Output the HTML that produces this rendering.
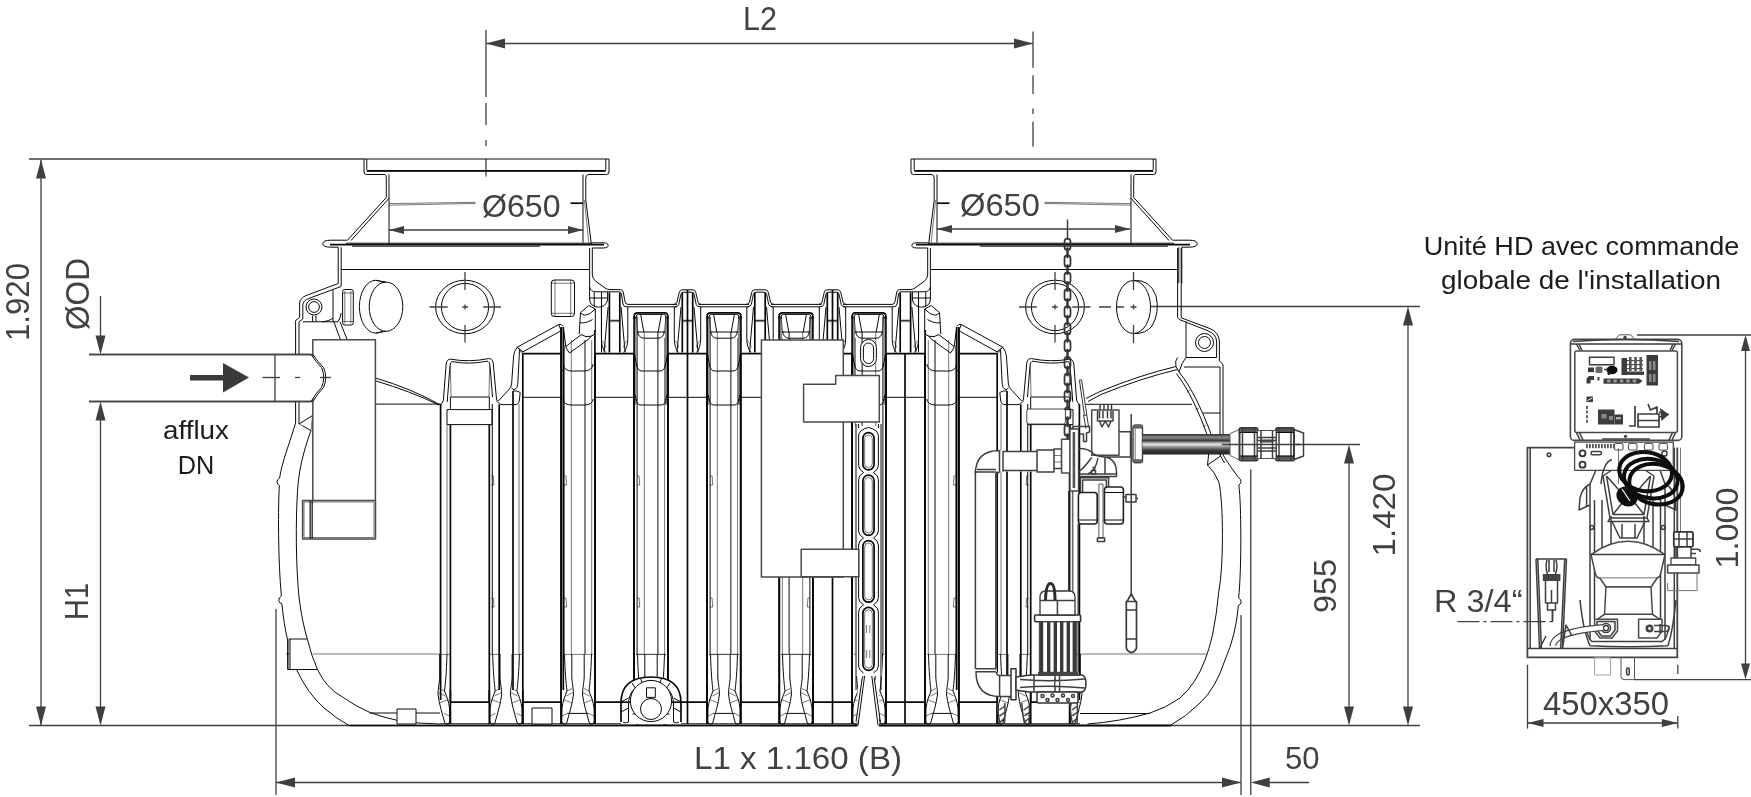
<!DOCTYPE html>
<html lang="fr"><head><meta charset="utf-8"><title>Dessin technique</title>
<style>
html,body{margin:0;padding:0;background:#fff;}
svg{display:block;will-change:transform}
path,rect,circle,ellipse,polyline{fill:none;stroke-linecap:butt;stroke-linejoin:round}
.d{stroke:#404040;stroke-width:1.3}
.t{stroke:#0a0a0a;stroke-width:1}
.k{stroke:#080808;stroke-width:1.7}
.h{stroke:#1c1c1c;stroke-width:.6}
.g{stroke:#3e3e3e;stroke-width:1.5}
.w{stroke:#4a4a4a;stroke-width:1.5;fill:#fff}
.wt{stroke:#0a0a0a;stroke-width:1;fill:#fff}
.a{fill:#3f3f3f;stroke:none}
.f{fill:#3a3a3a;stroke:none}
text{font-family:"Liberation Sans",Arial,sans-serif}
.dt{fill:#414141}
.bt{fill:#1c1c1c}
</style></head><body>
<svg width="1751" height="797" viewBox="0 0 1751 797">
<rect x="0" y="0" width="1751" height="797" style="fill:#fff;stroke:none"/>
<path class="d" d="M29 159L364 159"/>
<path class="d" d="M41 160L41 725"/>
<polygon class="a" points="41,159.5 36,178.5 46,178.5"/>
<polygon class="a" points="41,725.5 36,706.5 46,706.5"/>
<path class="d" d="M29 725.5L1420 725.5"/>
<path class="d" d="M100.5 296L100.5 340"/>
<polygon class="a" points="100.5,354.5 95.5,335.5 105.5,335.5"/>
<path class="d" d="M89 354.5L312.5 354.5"/>
<path class="d" d="M89 401.5L312.5 401.5"/>
<path class="d" d="M275 354.5L275 401.5"/>
<path class="d" d="M100.5 410L100.5 715"/>
<polygon class="a" points="100.5,401.5 95.5,420.5 105.5,420.5"/>
<polygon class="a" points="100.5,725.5 95.5,706.5 105.5,706.5"/>
<path class="f" d="M190 375H223V363L249 377.5L223 392.5V380.5H190Z"/>
<path class="d" d="M262.5 377.5L280 377.5"/>
<path class="d" d="M295 377.5L300 377.5"/>
<path class="d" d="M320 377.5L331 377.5"/>
<path class="d" d="M486 43.5L1033 43.5"/>
<polygon class="a" points="486,43.5 505,38.5 505,48.5"/>
<polygon class="a" points="1033,43.5 1014,38.5 1014,48.5"/>
<path class="d" d="M486 30L486 97"/>
<path class="d" d="M486 103L486 125"/>
<path class="d" d="M486 140L486 146"/>
<path class="d" d="M486 159L486 176.5"/>
<path class="d" d="M1033 31.4L1033 67.8"/>
<path class="d" d="M1033 75.3L1033 94"/>
<path class="d" d="M1033 108.4L1033 114"/>
<path class="d" d="M1033 121.7L1033 146.8"/>
<path class="d" d="M389 230L583 230"/>
<polygon class="a" points="389,230 404,226 404,234"/>
<polygon class="a" points="583,230 568,226 568,234"/>
<path class="d" d="M937 229L1130 229"/>
<polygon class="a" points="937,229 952,225 952,233"/>
<polygon class="a" points="1130,229 1115,225 1115,233"/>
<path class="d" d="M1150 306.5L1420 306.5"/>
<path class="d" d="M1408 315L1408 715"/>
<polygon class="a" points="1408,306.5 1403,325.5 1413,325.5"/>
<polygon class="a" points="1408,725.5 1403,706.5 1413,706.5"/>
<path class="d" d="M1222 444.5L1360 444.5"/>
<path class="d" d="M1349 455L1349 715"/>
<polygon class="a" points="1349,444.5 1344,463.5 1354,463.5"/>
<polygon class="a" points="1349,725.5 1344,706.5 1354,706.5"/>
<path class="d" d="M276 609L276 795"/>
<path class="d" d="M1241 615L1241 795"/>
<path class="d" d="M1250.75 469.5L1250.75 795"/>
<path class="d" d="M276 782.5L1241 782.5"/>
<polygon class="a" points="276,782.5 295,777.5 295,787.5"/>
<polygon class="a" points="1241,782.5 1222,777.5 1222,787.5"/>
<path class="d" d="M1260 782.5L1309 782.5"/>
<polygon class="a" points="1250.75,782.5 1269.75,777.5 1269.75,787.5"/>
<path class="d" d="M1637 335L1751 335"/>
<path class="d" d="M1634.5 679.6L1751 679.6"/>
<path class="d" d="M1745.5 345L1745.5 670"/>
<polygon class="a" points="1745.5,335 1741,351 1750,351"/>
<polygon class="a" points="1745.5,679.6 1741,663.6 1750,663.6"/>
<path class="d" d="M1527.5 664.8L1527.5 728.6"/>
<path class="d" d="M1677.8 664.8L1677.8 674"/>
<path class="d" d="M1677.8 716L1677.8 728.6"/>
<path class="d" d="M1527.5 723L1677.8 723"/>
<polygon class="a" points="1527.5,723 1543.5,719 1543.5,727"/>
<polygon class="a" points="1677.8,723 1661.8,719 1661.8,727"/>
<path class="d" d="M1457.5 621.6H1552.8" stroke-dasharray="22 4 3 4"/>
<path class="d" d="M1552.8 621.6L1552.8 609"/>
<text class="dt" x="760" y="30" font-size="33.5" text-anchor="middle" textLength="34" lengthAdjust="spacingAndGlyphs">L2</text>
<text class="dt" x="28.5" y="302" font-size="33" text-anchor="middle" textLength="78" lengthAdjust="spacingAndGlyphs" transform="rotate(-90 28.5 302)">1.920</text>
<text class="dt" x="88.5" y="294" font-size="33" text-anchor="middle" textLength="72" lengthAdjust="spacingAndGlyphs" transform="rotate(-90 88.5 294)">ØOD</text>
<text class="dt" x="87.5" y="601.5" font-size="33" text-anchor="middle" textLength="37" lengthAdjust="spacingAndGlyphs" transform="rotate(-90 87.5 601.5)">H1</text>
<text class="dt" x="482" y="217" font-size="32" text-anchor="start" textLength="78.5" lengthAdjust="spacingAndGlyphs">Ø650</text>
<text class="dt" x="960" y="216" font-size="32" text-anchor="start" textLength="80" lengthAdjust="spacingAndGlyphs">Ø650</text>
<text class="bt" x="196" y="438.5" font-size="26" text-anchor="middle" textLength="66" lengthAdjust="spacingAndGlyphs">afflux</text>
<text class="bt" x="196" y="473.5" font-size="26" text-anchor="middle" textLength="36.5" lengthAdjust="spacingAndGlyphs">DN</text>
<text class="dt" x="798" y="768.8" font-size="32" text-anchor="middle" textLength="208" lengthAdjust="spacingAndGlyphs">L1 x 1.160 (B)</text>
<text class="dt" x="1285" y="769" font-size="31.5" text-anchor="start" textLength="34.5" lengthAdjust="spacingAndGlyphs">50</text>
<text class="dt" x="1336" y="586" font-size="32" text-anchor="middle" textLength="54" lengthAdjust="spacingAndGlyphs" transform="rotate(-90 1336 586)">955</text>
<text class="dt" x="1395" y="515" font-size="32" text-anchor="middle" textLength="83" lengthAdjust="spacingAndGlyphs" transform="rotate(-90 1395 515)">1.420</text>
<text class="bt" x="1423.7" y="254.6" font-size="26" text-anchor="start" textLength="315.7" lengthAdjust="spacingAndGlyphs">Unité HD avec commande</text>
<text class="bt" x="1441" y="289" font-size="26" text-anchor="start" textLength="280" lengthAdjust="spacingAndGlyphs">globale de l'installation</text>
<text class="dt" x="1434" y="612.4" font-size="31" text-anchor="start" textLength="88.5" lengthAdjust="spacingAndGlyphs">R 3/4“</text>
<text class="dt" x="1737.5" y="528" font-size="32" text-anchor="middle" textLength="81" lengthAdjust="spacingAndGlyphs" transform="rotate(-90 1737.5 528)">1.000</text>
<text class="dt" x="1543" y="715" font-size="33" text-anchor="start" textLength="126" lengthAdjust="spacingAndGlyphs">450x350</text>
<g id="H">
<path class="t" d="M364 159H609V172Q609 174.5 606.5 174.5H588 M364 159V172Q364 174.5 366.5 174.5H385"/>
<path class="t" d="M366.8 159V169.5Q366.8 170.8 368 170.8H604.5Q605.8 170.8 605.8 169.5V159"/>
<path class="k" d="M367 170.8L605.6 170.8"/>
<path class="t" d="M389 174.5L389 243.5"/>
<path class="t" d="M583 174.5L583 242.5"/>
<path class="t" d="M385 174.5Q386.3 175 386.3 178V197.5L347.5 240.2H331Q322.8 240.2 322.8 243.7T331 247.2H338.2"/>
<path class="t" d="M388.8 198.5L351 240.5"/>
<path class="t" d="M588 174.5Q585.8 175 585.8 178V200L591.2 242.8H603Q608.2 242.8 608.2 245.4T603 248H592.3"/>
<path class="h" d="M584.4 200L588.8 242.8"/>
<path class="h" d="M389 203.6L475.5 202.3M389 205.2L475.5 203.4"/>
<path class="k" d="M570.5 203.2L583 203.2"/>
<path class="k" d="M330 244.6H604"/>
<path class="t" d="M346 243.2H592"/>
<path class="t" d="M352 246.2H540"/>
<path class="t" d="M338.2 247.2V283.5M341.2 247.2V283"/>
<path class="t" d="M589.6 248V289M592.3 248V275Q592.6 279 596 281.5L605 288Q607 289.6 610 289.6H620.3Q622.6 289.6 623.2 292L625 301.5Q625.5 304.4 628 304.4H677"/>
<path class="t" d="M589.6 287Q590.5 291.8 596 291.8H619Q621 291.8 621.4 294L623 304Q623.5 306.8 626 306.8H677"/>
<path class="t" d="M341.2 269.5L589.6 269.5"/>
<path class="t" d="M673.5 304.4Q676.5 304.4 677 302L679.3 292.2Q679.9 289.8 682.3 289.8H687.5H692.7Q695.1 289.8 695.7 292.2L698 302Q698.5 304.4 701.5 304.4"/>
<path class="t" d="M674.5 306.8Q678.3 306.8 678.8 304.4L680.9 294.4Q681.4 292.2 683.5 292.2H687.5H691.5Q693.6 292.2 694.1 294.4L696.2 304.4Q696.7 306.8 700.5 306.8"/>
<path class="t" d="M746 304.4Q749 304.4 749.5 302L751.8 292.2Q752.4 289.8 754.8 289.8H760"/>
<path class="t" d="M747 306.8Q750.8 306.8 751.3 304.4L753.4 294.4Q753.9 292.2 756 292.2H760"/>
<path class="t" d="M698.5 304.4H749 M700 306.8H749"/>
<path class="k" d="M609.4 292.5L609.4 352.5"/>
<path class="t" d="M608.1 307L604.1 352.5"/>
<path class="t" d="M601.4 307V338Q601.4 348 605.6 352.5"/>
<path class="h" d="M601.4 340Q605.1 343 606 347.5"/>
<path class="k" d="M619.8 292.5L619.8 352.5"/>
<path class="t" d="M621.1 307L625.1 352.5"/>
<path class="t" d="M627.8 307V338Q627.8 348 623.6 352.5"/>
<path class="h" d="M627.8 340Q624.1 343 623.2 347.5"/>
<path class="t" d="M609.4 320.3L619.8 320.3"/>
<path class="h" d="M609.4 321.6L619.8 321.6"/>
<path class="k" d="M682.3 292.5L682.3 352.5"/>
<path class="t" d="M681 307L677 352.5"/>
<path class="t" d="M674.3 307V338Q674.3 348 678.5 352.5"/>
<path class="h" d="M674.3 340Q678 343 678.9 347.5"/>
<path class="k" d="M692.7 292.5L692.7 352.5"/>
<path class="t" d="M694 307L698 352.5"/>
<path class="t" d="M700.7 307V338Q700.7 348 696.5 352.5"/>
<path class="h" d="M700.7 340Q697 343 696.1 347.5"/>
<path class="t" d="M682.3 320.3L692.7 320.3"/>
<path class="h" d="M682.3 321.6L692.7 321.6"/>
<path class="k" d="M754.8 292.5L754.8 352.5"/>
<path class="t" d="M753.5 307L749.5 352.5"/>
<path class="t" d="M746.8 307V338Q746.8 348 751 352.5"/>
<path class="h" d="M746.8 340Q750.5 343 751.4 347.5"/>
<path class="t" d="M754.8 320.3L760 320.3"/>
<path class="h" d="M754.8 321.6L760 321.6"/>
<path class="k" d="M687.5 289.8L687.5 724"/>
<path class="k" d="M595.1 353.6L595.1 724"/>
<path class="k" d="M633.9 353.6L633.9 724"/>
<path class="k" d="M595.1 353.6L633.9 353.6"/>
<path class="t" d="M595.1 397.3L633.9 397.3"/>
<path class="k" d="M595.1 702.2L633.9 702.2"/>
<path class="k" d="M668.1 353.6L668.1 724"/>
<path class="k" d="M706.9 353.6L706.9 724"/>
<path class="k" d="M668.1 353.6L706.9 353.6"/>
<path class="t" d="M668.1 397.3L706.9 397.3"/>
<path class="k" d="M668.1 702.2L706.9 702.2"/>
<path class="k" d="M740.6 353.6L740.6 724"/>
<path class="k" d="M740.6 353.6L760 353.6"/>
<path class="t" d="M740.6 397.3L760 397.3"/>
<path class="k" d="M740.6 702.2L760 702.2"/>
<path class="k" d="M634.1 316.8L634.1 690"/>
<path class="t" d="M637.1 316.8L637.1 654"/>
<path class="h" d="M644.3 332L644.3 654"/>
<path class="h" d="M635.7 316.8L635.7 405"/>
<path class="h" d="M637.1 476H639.1L639.7 485H637.1"/>
<path class="h" d="M637.1 598H639.1L639.7 607H637.1"/>
<path class="t" d="M640.5 313.8L643.8 332"/>
<path class="h" d="M636.1 315.8Q637.1 330 638.5 333"/>
<path class="t" d="M634.1 352L636.7 366"/>
<path class="t" d="M634.1 392L636.7 401"/>
<path class="k" d="M667.9 316.8L667.9 690"/>
<path class="t" d="M657.9 332L657.9 654"/>
<path class="h" d="M664.6 338L664.6 654"/>
<path class="t" d="M666 316.8L666 405"/>
<path class="t" d="M661.5 313.8L658.2 332"/>
<path class="h" d="M665.9 315.8Q664.9 330 663.5 333"/>
<path class="t" d="M667.9 352L665.3 366"/>
<path class="t" d="M667.9 392L665.3 401"/>
<path class="k" d="M634.1 690V724"/>
<path class="t" d="M637.5 654C638 672 639 683 640 691C638 696 635.5 702 635 708L634.8 721Q635.1 724.5 637.1 724.3T639.5 723.5"/>
<path class="t" d="M644.8 654V677C645.2 685 646.8 690 646.4 695C645.5 703 642.5 713 639.5 723.5"/>
<path class="h" d="M640 691L645 688.5M639.2 696L646.2 692.5M635 716L640.4 713.4M636.1 699.5L645.3 703"/>
<path class="k" d="M667.9 690V724"/>
<path class="t" d="M664.5 654C664 672 663 683 662 691C664 696 666.5 702 667 708L667.2 721Q666.9 724.5 664.9 724.3T662.5 723.5"/>
<path class="t" d="M657.2 654V677C656.8 685 655.2 690 655.6 695C656.5 703 659.5 713 662.5 723.5"/>
<path class="h" d="M662 691L657 688.5M662.8 696L655.8 692.5M667 716L661.6 713.4M665.9 699.5L656.7 703"/>
<path class="h" d="M636 654.4L666 654.4"/>
<path class="t" d="M640.4 713.4L661.6 713.4"/>
<path class="k" d="M634.1 318.8V316.3Q634.1 312.8 637.6 312.8H664.4Q667.9 312.8 667.9 316.3V318.8"/>
<path class="t" d="M636 318.8V316.8Q636 314.4 638.6 314.4H663.4Q666 314.4 666 316.8V318.8"/>
<path class="t" d="M638.2 332L663.8 332"/>
<path class="t" d="M637.4 331Q638.5 338.2 644 338.2H658Q663.5 338.2 664.6 331"/>
<path class="t" d="M636.5 364Q637.1 371 642 371H660Q664.9 371 665.5 364"/>
<path class="t" d="M636 399Q636.7 405 641 405H661Q665.3 405 666 399"/>
<path class="h" d="M636 654.4L666 654.4"/>
<path class="k" d="M707.1 316.8L707.1 690"/>
<path class="t" d="M710.1 316.8L710.1 654"/>
<path class="h" d="M717.3 332L717.3 654"/>
<path class="h" d="M708.7 316.8L708.7 405"/>
<path class="h" d="M710.1 476H712.1L712.7 485H710.1"/>
<path class="h" d="M710.1 598H712.1L712.7 607H710.1"/>
<path class="t" d="M713.5 313.8L716.8 332"/>
<path class="h" d="M709.1 315.8Q710.1 330 711.5 333"/>
<path class="t" d="M707.1 352L709.7 366"/>
<path class="t" d="M707.1 392L709.7 401"/>
<path class="k" d="M740.9 316.8L740.9 690"/>
<path class="t" d="M730.9 332L730.9 654"/>
<path class="h" d="M737.6 338L737.6 654"/>
<path class="t" d="M739 316.8L739 405"/>
<path class="t" d="M734.5 313.8L731.2 332"/>
<path class="h" d="M738.9 315.8Q737.9 330 736.5 333"/>
<path class="t" d="M740.9 352L738.3 366"/>
<path class="t" d="M740.9 392L738.3 401"/>
<path class="k" d="M707.1 690V724"/>
<path class="t" d="M710.5 654C711 672 712 683 713 691C711 696 708.5 702 708 708L707.8 721Q708.1 724.5 710.1 724.3T712.5 723.5"/>
<path class="t" d="M717.8 654V677C718.2 685 719.8 690 719.4 695C718.5 703 715.5 713 712.5 723.5"/>
<path class="h" d="M713 691L718 688.5M712.2 696L719.2 692.5M708 716L713.4 713.4M709.1 699.5L718.3 703"/>
<path class="k" d="M740.9 690V724"/>
<path class="t" d="M737.5 654C737 672 736 683 735 691C737 696 739.5 702 740 708L740.2 721Q739.9 724.5 737.9 724.3T735.5 723.5"/>
<path class="t" d="M730.2 654V677C729.8 685 728.2 690 728.6 695C729.5 703 732.5 713 735.5 723.5"/>
<path class="h" d="M735 691L730 688.5M735.8 696L728.8 692.5M740 716L734.6 713.4M738.9 699.5L729.7 703"/>
<path class="h" d="M709 654.4L739 654.4"/>
<path class="t" d="M713.4 713.4L734.6 713.4"/>
<path class="k" d="M707.1 318.8V316.3Q707.1 312.8 710.6 312.8H737.4Q740.9 312.8 740.9 316.3V318.8"/>
<path class="t" d="M709 318.8V316.8Q709 314.4 711.6 314.4H736.4Q739 314.4 739 316.8V318.8"/>
<path class="t" d="M711.2 332L736.8 332"/>
<path class="t" d="M710.4 331Q711.5 338.2 717 338.2H731Q736.5 338.2 737.6 331"/>
<path class="t" d="M709.5 364Q710.1 371 715 371H733Q737.9 371 738.5 364"/>
<path class="t" d="M709 399Q709.7 405 714 405H734Q738.3 405 739 399"/>
<path class="h" d="M709 654.4L739 654.4"/>
<path class="k" d="M561.1 330L561.1 690"/>
<path class="k" d="M594.9 330L594.9 690"/>
<path class="t" d="M564 345L564 654"/>
<path class="h" d="M571.3 340L571.3 654"/>
<path class="t" d="M585 340L585 654"/>
<path class="h" d="M591.7 340L591.7 654"/>
<path class="h" d="M564 476H566L566.6 485H564"/>
<path class="h" d="M491.3 476H493.3L493.9 485H491.3"/>
<path class="h" d="M564 598H566L566.6 607H564"/>
<path class="h" d="M491.3 598H493.3L493.9 607H491.3"/>
<path class="k" d="M561.1 690V724"/>
<path class="t" d="M564.5 654C565 672 566 683 567 691C565 696 562.5 702 562 708L561.8 721Q562.1 724.5 564.1 724.3T566.5 723.5"/>
<path class="t" d="M571.8 654V677C572.2 685 573.8 690 573.4 695C572.5 703 569.5 713 566.5 723.5"/>
<path class="h" d="M567 691L572 688.5M566.2 696L573.2 692.5M562 716L567.4 713.4M563.1 699.5L572.3 703"/>
<path class="k" d="M594.9 690V724"/>
<path class="t" d="M591.5 654C591 672 590 683 589 691C591 696 593.5 702 594 708L594.2 721Q593.9 724.5 591.9 724.3T589.5 723.5"/>
<path class="t" d="M584.2 654V677C583.8 685 582.2 690 582.6 695C583.5 703 586.5 713 589.5 723.5"/>
<path class="h" d="M589 691L584 688.5M589.8 696L582.8 692.5M594 716L588.6 713.4M592.9 699.5L583.7 703"/>
<path class="h" d="M563 654.4L593 654.4"/>
<path class="t" d="M567.4 713.4L588.6 713.4"/>
<path class="t" d="M561.1 370.6Q562 370.6 563.5 370.6M563.2 364Q564 371 572 371H584Q592 371 593.2 364"/>
<path class="t" d="M563 399Q563.6 405 572 405H584Q592.6 405 593.2 399"/>
<path class="k" d="M522.8 353.6L522.8 724"/>
<path class="k" d="M561.1 327L561.1 724"/>
<path class="k" d="M563.3 327L563.3 690"/>
<path class="k" d="M522.8 353.6L561.1 353.6"/>
<path class="t" d="M522.8 397.3L561.1 397.3"/>
<path class="k" d="M522.8 702.2L561.1 702.2"/>
<path class="t" d="M517.2 347.2L558.6 324.6Q561.4 323.4 563 326.4 M523 351.8L561.3 330.6 M558.6 324.6L561.2 330.4 M517.2 347.2L523 351.8"/>
<path class="t" d="M517.2 347.2Q514 351 513.6 356L511.6 384Q511.4 388 508 390.5L498.2 401.2"/>
<path class="t" d="M522.8 353.6L517.2 347.2M519.5 350.2L517.8 384Q517.5 388.5 514 390L511.6 388"/>
<path class="t" d="M499 403.5Q500 404.6 503 404.6H515Q519 404.6 519.4 400L520.2 392.5Q517 390.2 513.2 391"/>
<path class="k" d="M513 391L513 690"/>
<path class="h" d="M519 404L519 654"/>
<path class="t" d="M563.3 327L565.8 346.6L581 334.6Q586 337.8 591 336.2L589.5 338.5L569.5 353Q567 350 565.8 346.6"/>
<path class="t" d="M580.5 312.5Q583.5 317 590 313.5L595.3 309V331Q594 336.5 591 336.2 M580.5 312.5L579.2 334 M580.5 312.5L588.8 305.5L595.3 309 M580 322.5Q585 324.2 592.5 319.5"/>
<path class="t" d="M589.6 289V300Q590.5 306.8 598.5 307.2Q606 306.8 607.6 300V292 M589.6 298H607.6 M594.2 292V306 M601.5 292V352.5"/>
<ellipse class="t" cx="465" cy="307" rx="29.4" ry="26.8"/>
<circle class="t" cx="465" cy="307" r="23.6"/>
<path class="d" d="M429.6 307H447.7M483.2 307H500.9M462.3 307H468M465 272V290M465 325V342.5M465 304.4V309.6"/>
<path class="t" d="M440.6 404Q443 403 443.4 400L446.2 364Q446.8 359.2 450.5 359.2Q469.5 362.5 488.5 358.6Q492.6 358.2 493.2 363L496.4 398Q496.8 402.5 499 403.5"/>
<path class="t" d="M447.2 402L450 366Q450.3 361.8 452 361.6Q469.5 364.8 487 361.2Q489.6 361.2 490 366L492.5 397"/>
<path class="h" d="M450.3 366L451 397M489.6 366L489 397"/>
<path class="t" d="M450.7 397L489 397"/>
<path class="t" d="M447 409.6H492V424.6H447Z"/>
<path class="k" d="M440.6 404L440.6 700"/>
<path class="h" d="M447 424.6L447 654"/>
<path class="k" d="M450.4 424.6L450.4 702"/>
<path class="k" d="M489.3 424.6L489.3 702"/>
<path class="t" d="M492.3 404L492.3 654"/>
<path class="k" d="M450.4 690V724"/>
<path class="t" d="M447 654C446.5 672 445.5 683 444.5 691C446.5 696 449 702 449.5 708L449.7 721Q449.4 724.5 447.4 724.3T445 723.5"/>
<path class="t" d="M439.7 654V677C439.3 685 437.7 690 438.1 695C439 703 442 713 445 723.5"/>
<path class="h" d="M444.5 691L439.5 688.5M445.3 696L438.3 692.5M449.5 716L444.1 713.4M448.4 699.5L439.2 703"/>
<path class="k" d="M489.3 690V724"/>
<path class="t" d="M492.7 654C493.2 672 494.2 683 495.2 691C493.2 696 490.7 702 490.2 708L490 721Q490.3 724.5 492.3 724.3T494.7 723.5"/>
<path class="t" d="M500 654V677C500.4 685 502 690 501.6 695C500.7 703 497.7 713 494.7 723.5"/>
<path class="h" d="M495.2 691L500.2 688.5M494.4 696L501.4 692.5M490.2 716L495.6 713.4M491.3 699.5L500.5 703"/>
<path class="k" d="M522.8 690V724"/>
<path class="t" d="M519.4 654C518.9 672 517.9 683 516.9 691C518.9 696 521.4 702 521.9 708L522.1 721Q521.8 724.5 519.8 724.3T517.4 723.5"/>
<path class="t" d="M512.1 654V677C511.7 685 510.1 690 510.5 695C511.4 703 514.4 713 517.4 723.5"/>
<path class="h" d="M516.9 691L511.9 688.5M517.7 696L510.7 692.5M521.9 716L516.5 713.4M520.8 699.5L511.6 703"/>
<path class="k" d="M450.4 702.2L489.3 702.2"/>
<path class="h" d="M440.6 654.4L450.4 654.4"/>
<path class="h" d="M489.3 654.4L499 654.4"/>
<path class="h" d="M513 654.4L522.8 654.4"/>
<path class="k" d="M499.2 404.6L499.2 690"/>
<path class="t" d="M450.4 409.6L450.4 397"/>
<path class="t" d="M489.3 409.6L489.3 397"/>
<path class="k" d="M349 725.5L760 725.5"/>
<path class="t" d="M440 723.8L760 723.8"/>
</g>
<use href="#H" transform="translate(1520 0) scale(-1 1)"/>
<rect class="t" x="551.3" y="280" width="23.2" height="36.5" rx="3"/>
<path class="h" d="M555 280V316.5M570.7 280V316.5M551.3 283.2H574.5M551.3 313.3H574.5"/>
<path class="t" d="M338.2 283.5L306 295.6Q300 298 299.6 303V317.5L295.6 320.5V354.5M295.6 401.5V423C289 445 282 462 279.6 478Q276.8 479.5 277 482T279.4 485.5C278 505 278 560 281.4 596Q278.6 597.5 278.8 600.5T281.8 603.5Q284 625 287.6 640V669.5H296.5Q308 694 324 708Q337 719 349 725.5"/>
<path class="t" d="M341.2 283L341 286.5L309 298.4Q303 300.6 302.8 305V319L299 321.8V354.5M299 401.5V424L312.5 415.5M302.5 425.8L311 430.6C303 452 298.6 472 297.6 490C295.6 520 295.8 565 299 597Q302 622 307.5 639.5Q311 655 317.5 669.5Q326 688 342.5 697Q356 706.5 370 712.5Q385 718 400 721Q418 723.6 440 724"/>
<path class="h" d="M299 424L302.5 425.8M312.5 415.5L311 430.6"/>
<circle class="t" cx="314" cy="307" r="8"/>
<circle class="t" cx="314" cy="307" r="5.4"/>
<path class="t" d="M302.8 321.8H338Q340.5 318 341.2 313 M312.6 315.5V321.8M316 315.5V321.8 M333 290V321.8 M322 321.8Q330 321 333 318"/>
<path class="t" d="M334 321.8Q338.5 335 340.6 339.7 M340 321.8Q344.5 333 347.2 339.7"/>
<rect class="t" x="342.6" y="289.5" width="10.7" height="35.5" rx="2.2"/>
<path class="h" d="M344.8 291V323.5M350.8 291V323.5M342.6 293H353.3M342.6 321.5H353.3"/>
<ellipse class="t" cx="375.8" cy="306.7" rx="16.4" ry="26.4"/>
<ellipse class="wt" cx="386" cy="306.7" rx="16.8" ry="24.6"/>
<path class="t" d="M375.8 280.3L386 282.1M375.8 333.1L386 331.3"/>
<path class="t" d="M375.4 378Q410 388 440.6 405 M375.4 380.8Q410 391 439 405"/>
<path class="t" d="M375.4 404.1L440.6 404.1"/>
<path class="h" d="M312.5 654L440.6 654"/>
<path class="t" d="M370 713L440 713"/>
<path class="t" d="M307 639H289V669.5H317.5"/>
<path class="h" d="M290.4 639V669.5"/>
<rect class="wt" x="397" y="709" width="19" height="15"/>
<rect class="wt" x="532" y="708" width="20" height="16"/>
<path class="k" d="M287.6 653V655"/>
<rect class="w" x="312.8" y="339.7" width="62.6" height="161"/>
<rect class="w" x="302.6" y="500.5" width="72.9" height="38.5"/>
<path class="g" d="M310.2 500.5V539M312.2 500.5V539"/>
<rect class="h" x="304" y="502" width="70" height="35.5"/>
<path class="d" d="M89 354.5H311 M89 401.5H311"/>
<path class="wt" d="M311 354.5Q316 362 321.5 367.5Q326 377.5 321.5 387.5Q316 393 311 401.5"/>
<path class="t" d="M313 354.5Q318 362 323.5 367.5Q328 377.5 323.5 387.5Q318 393 313 401.5"/>
<path class="d" d="M320 377.5L331 377.5"/>
<path class="t" d="M1177.6 248V317.5 M1181.2 248V317.8L1210 328.6Q1218.6 332 1219.4 341V361L1223 364.5V455Q1229 465 1238.6 477.6Q1241.2 479 1241 481.5T1238.8 485C1241.5 505 1241.6 570 1238.6 598Q1241.4 599.5 1241.2 602T1238.4 605.5Q1236 635 1225 660Q1216 688 1200 703Q1186 717 1170 725.5"/>
<path class="t" d="M1177.6 317.5L1180 319.8L1208.5 331Q1216 334 1216.6 341V357.5H1186V321.5"/>
<path class="t" d="M1220 367V455 M1184 367H1220 M1202.5 413H1220"/>
<circle class="t" cx="1204.5" cy="342.5" r="9"/>
<circle class="t" cx="1204.5" cy="342.5" r="6"/>
<path class="t" d="M1176 366.5Q1140 375 1100 391.5L1086 398.5 M1177.5 369.5Q1140 378.5 1101 394.5L1088 401.5"/>
<path class="t" d="M1177.6 357.5Q1174.5 361 1176 366.5L1179 372 M1186 357.5Q1182 362 1179 372"/>
<path class="t" d="M1179 372C1192 388 1202 410 1211 434Q1216 447 1220.6 456 M1176.4 373.5C1189 390 1199 412 1207.5 436Q1210 446 1207.5 465"/>
<path class="h" d="M1190 390L1186.6 392.5M1199 408L1195.4 410M1206 425L1202.8 427"/>
<path class="t" d="M1086 404.3L1192 404.3"/>
<path class="t" d="M1207.5 465Q1215 472 1219 482.5C1223.6 505 1223.6 565 1219 590Q1216.6 615 1212.5 635Q1209 650 1205 660Q1196 684 1180 698Q1166 708 1150 713Q1120 721.6 1087.5 724"/>
<path class="t" d="M1207.5 465L1220.6 456L1224.5 463"/>
<path class="h" d="M1077.5 654L1206.5 654"/>
<path class="t" d="M1080 713.5L1150 713.5"/>
<path class="k" d="M1170 725.5L760 725.5"/>
<ellipse class="t" cx="1133.5" cy="307" rx="17" ry="26.5"/>
<path class="t" d="M1133.5 280.5Q1150 279 1156 296Q1160 312 1152 326Q1146 334 1133.5 333.5"/>
<path class="d" d="M1099 307H1111M1117 307H1124M1130.5 307H1136.5M1133.5 272V290M1133.5 325V343M1133.5 304.4V309.6"/>
<rect class="w" x="761.4" y="340" width="81.9" height="237"/>
<path class="w" d="M803.6 384.3H835.7V375.5H879.3V422H803.6Z"/>
<rect class="wt" x="860.6" y="339.5" width="15.8" height="27" rx="7.9"/>
<rect class="t" x="863.4" y="343" width="10.2" height="20.5" rx="5.1"/>
<rect x="855" y="426" width="27" height="250" style="fill:#fff;stroke:none"/>
<path class="t" d="M856 424L856 690"/>
<path class="t" d="M881 424L881 690"/>
<path class="t" d="M858.6 424V428M858.6 436V465.5Q858.6 469.5 863.5 472.5Q858.6 475.5 858.6 479.5V531Q858.6 535 863.5 538Q858.6 541 858.6 545V597.8Q858.6 601.8 863.5 604.8Q858.6 607.8 858.6 611.8V666Q858.6 670 863.5 673M878.4 424V428M878.4 436V465.5Q878.4 469.5 873.5 472.5Q878.4 475.5 878.4 479.5V531Q878.4 535 873.5 538Q878.4 541 878.4 545V597.8Q878.4 601.8 873.5 604.8Q878.4 607.8 878.4 611.8V666Q878.4 670 873.5 673"/>
<path class="t" d="M858.6 436Q858.6 430 868.5 427.4Q878.4 430 878.4 436"/>
<rect class="k" x="862.9" y="432.6" width="11.2" height="37.3" rx="5.6"/>
<rect class="h" x="864.7" y="435" width="7.6" height="32.5" rx="3.8"/>
<rect class="k" x="862.9" y="475.1" width="11.2" height="60.3" rx="5.6"/>
<rect class="h" x="864.7" y="477.5" width="7.6" height="55.5" rx="3.8"/>
<rect class="k" x="862.9" y="540.6" width="11.2" height="61.6" rx="5.6"/>
<rect class="h" x="864.7" y="543" width="7.6" height="56.8" rx="3.8"/>
<rect class="k" x="862.9" y="607.4" width="11.2" height="63" rx="5.6"/>
<rect class="h" x="864.7" y="609.8" width="7.6" height="58.2" rx="3.8"/>
<path class="k" d="M905 353.6L905 724"/>
<rect class="w" x="801.2" y="549.2" width="57.6" height="27.6"/>
<path class="h" d="M866.6 625V633M869.8 625V633M866.6 650V658M869.8 650V658"/>
<path d="M857.5 727V690Q860 676 868.2 676T879 690V727Z" style="fill:#fff;stroke:none"/>
<path class="t" d="M864.6 676L858 725.5M871.8 676L878 725.5M862.2 678L856 722M874.2 678L880.4 722"/>
<path class="g" d="M1067.5 219.5L1067.5 240"/>
<rect x="1064.5" y="238.5" width="6" height="11.5" rx="3" style="fill:none;stroke:#333;stroke-width:1.7"/>
<path d="M1067.5 248.45V256.95" style="stroke:#333;stroke-width:2.4;stroke-linecap:round"/>
<rect x="1064.5" y="255.4" width="6" height="11.5" rx="3" style="fill:none;stroke:#333;stroke-width:1.7"/>
<path d="M1067.5 265.35V273.85" style="stroke:#333;stroke-width:2.4;stroke-linecap:round"/>
<rect x="1064.5" y="272.3" width="6" height="11.5" rx="3" style="fill:none;stroke:#333;stroke-width:1.7"/>
<path d="M1067.5 282.25V290.75" style="stroke:#333;stroke-width:2.4;stroke-linecap:round"/>
<rect x="1064.5" y="289.2" width="6" height="11.5" rx="3" style="fill:none;stroke:#333;stroke-width:1.7"/>
<path d="M1067.5 299.15V307.65" style="stroke:#333;stroke-width:2.4;stroke-linecap:round"/>
<rect x="1064.5" y="306.1" width="6" height="11.5" rx="3" style="fill:none;stroke:#333;stroke-width:1.7"/>
<path d="M1067.5 316.05V324.55" style="stroke:#333;stroke-width:2.4;stroke-linecap:round"/>
<rect x="1064.5" y="323" width="6" height="11.5" rx="3" style="fill:none;stroke:#333;stroke-width:1.7"/>
<path d="M1067.5 332.95V341.45" style="stroke:#333;stroke-width:2.4;stroke-linecap:round"/>
<rect x="1064.5" y="339.9" width="6" height="11.5" rx="3" style="fill:none;stroke:#333;stroke-width:1.7"/>
<path d="M1067.5 349.85V358.35" style="stroke:#333;stroke-width:2.4;stroke-linecap:round"/>
<rect x="1064.5" y="356.8" width="6" height="11.5" rx="3" style="fill:none;stroke:#333;stroke-width:1.7"/>
<path d="M1067.5 366.75V375.25" style="stroke:#333;stroke-width:2.4;stroke-linecap:round"/>
<rect x="1064.5" y="373.7" width="6" height="11.5" rx="3" style="fill:none;stroke:#333;stroke-width:1.7"/>
<path d="M1067.5 383.65V392.15" style="stroke:#333;stroke-width:2.4;stroke-linecap:round"/>
<rect x="1064.5" y="390.6" width="6" height="11.5" rx="3" style="fill:none;stroke:#333;stroke-width:1.7"/>
<path d="M1067.5 400.55V409.05" style="stroke:#333;stroke-width:2.4;stroke-linecap:round"/>
<rect x="1064.5" y="407.5" width="6" height="11.5" rx="3" style="fill:none;stroke:#333;stroke-width:1.7"/>
<path d="M1067.5 417.45V425.95" style="stroke:#333;stroke-width:2.4;stroke-linecap:round"/>
<rect x="1064.5" y="424.4" width="6" height="11.5" rx="3" style="fill:none;stroke:#333;stroke-width:1.7"/>
<path d="M1067.5 434.35V442.85" style="stroke:#333;stroke-width:2.4;stroke-linecap:round"/>
<path d="M621 724V703Q621 677 651 677T681 703V724Z" style="fill:#fff;stroke:none"/>
<path class="k" d="M621 722V703Q621 677 651 677T681 703V722"/>
<path class="t" d="M628.5 722V704Q629 684 651 684T673.5 704V722"/>
<path class="t" d="M621 702L628.5 698M621 712L628.5 708M681 702L673.5 698M681 712L673.5 708 M623 722Q625 724 628.5 722M679 722Q677 724 673.5 722"/>
<path class="t" d="M632 683L636 689M670 683L666 689M640.5 678.5L643 685M661.5 678.5L659 685"/>
<path class="t" d="M632.5 714L669.5 714"/>
<circle class="wt" cx="651" cy="701" r="20.6"/>
<circle class="wt" cx="651" cy="709" r="10.5"/>
<rect class="wt" x="646.5" y="687.8" width="8.8" height="9.6"/>
<path class="k" d="M621 702.2L630.5 702.2"/>
<path class="k" d="M671.5 702.2L681 702.2"/>
<path d="M975.4 472V668.7H996V472Z" style="fill:#fff;stroke:none"/>
<path class="g" d="M975.4 470V668.7M995.8 474V668.7"/>
<path d="M975.4 474Q975.4 451 999 451H1061.6V471.5H996V474Z" style="fill:#fff;stroke:none"/>
<path class="g" d="M975.4 474Q975.4 450.6 999.5 450.6 M999.5 450.6V472.4 M1003 451.2V471.6 M995.8 474Q995.8 472.4 999.5 472.4 M975.4 472H995.8 M977 469.6H996"/>
<path class="g" d="M1003 451.6H1037V470.6H1003 M1037 450H1054V472H1037Z M1054 449H1061.6V468.5H1054Z"/>
<path class="h" d="M1054 455.5H1061.6M1054 462H1061.6"/>
<rect class="w" x="1061.6" y="439.3" width="8.4" height="33.7"/>
<rect x="1070" y="429" width="8.5" height="62" style="fill:#fff;stroke:#444;stroke-width:1.3"/>
<rect x="1072.6" y="432" width="2.6" height="56" style="fill:#555;stroke:none"/>
<path class="g" d="M1073 429V426.5H1089.5V432L1086.5 433V441.5H1083.5V434H1079.5"/>
<rect x="1026.8" y="409" width="38.6" height="15" rx="2" style="fill:#fff;stroke:#333;stroke-width:.9"/>
<rect class="w" x="1091.7" y="410" width="27.3" height="45.3"/>
<path class="g" d="M1078.5 448.5Q1086 448 1091.7 452Q1095 456.6 1105 457H1119 M1078.5 472Q1084 468 1091.7 457.5 M1105 457Q1117 459 1116.5 474 M1105 457V474 M1088 474Q1096 470 1098 458"/>
<path class="g" d="M1119 431.7H1130.5V457H1119"/>
<rect class="w" x="1133" y="425" width="9.5" height="37.8" rx="2.5"/>
<path class="h" d="M1135.2 426V461.5"/>
<path class="g" d="M1097.5 411V421H1113V411 M1099.5 411V418.5M1103 411V418.5M1107.5 411V418.5M1111 411V418.5 M1099.5 421L1102 427L1105.3 421L1108.5 427L1111 421"/>
<path class="g" d="M1131.2 414L1131.2 594"/>
<path class="g" d="M1078.5 474H1116.5V476.4H1078.5 M1080.4 492V477.8H1108.6V492 M1082.6 492V480H1106.4V492"/>
<path class="g" d="M1091.5 470.5H1095.5V474H1091.5ZM1092.4 467.5H1094.6V470.5"/>
<rect x="1078.4" y="492.5" width="18.8" height="31.5" rx="3" style="fill:#fff;stroke:#222;stroke-width:1.6"/>
<rect x="1104.4" y="487" width="19" height="37" rx="3" style="fill:#fff;stroke:#222;stroke-width:1.6"/>
<path class="t" d="M1078.4 520H1097.2M1104.4 520H1123.4 M1104.4 492.5H1123.4"/>
<rect x="1098.9" y="484" width="4.1" height="54" style="fill:#fff;stroke:#444;stroke-width:.9"/>
<rect class="g" x="1097.4" y="538" width="7.2" height="3.6"/>
<path class="g" d="M1126 494.5H1136V502H1126ZM1122.6 497H1126M1136 498.5H1138"/>
<path class="g" d="M1068.7 491V592 M1078.2 524V672"/>
<path class="h" d="M1072.4 491L1072.4 592"/>
<defs><linearGradient id="pg" x1="0" y1="0" x2="0" y2="1"><stop offset="0" stop-color="#2a2a2a"/><stop offset=".16" stop-color="#8a8a8a"/><stop offset=".32" stop-color="#3c3c3c"/><stop offset=".5" stop-color="#e8e8e8"/><stop offset=".62" stop-color="#9a9a9a"/><stop offset=".8" stop-color="#3a3a3a"/><stop offset="1" stop-color="#222"/></linearGradient></defs>
<rect x="1142.5" y="434" width="88" height="20.5" style="fill:url(#pg);stroke:none"/>
<path d="M1230 433.5L1239.5 429.5V460L1230 455.5Z" style="fill:#fff;stroke:#555;stroke-width:.9"/>
<rect x="1239.5" y="428" width="18" height="32.5" rx="1.5" style="fill:#fff;stroke:#3a3a3a;stroke-width:2"/>
<rect x="1276" y="428" width="18" height="32.5" rx="1.5" style="fill:#fff;stroke:#3a3a3a;stroke-width:2"/>
<rect x="1257.5" y="430.5" width="18.5" height="28" style="fill:#fff;stroke:#555;stroke-width:1"/>
<path class="g" d="M1294 429.5L1303.5 433V456L1294 459.5"/>
<rect x="1240.3" y="428.6" width="16.4" height="4" style="fill:#555;stroke:none"/><rect x="1240.3" y="455.8" width="16.4" height="4" style="fill:#555;stroke:none"/>
<rect x="1276.8" y="428.6" width="16.4" height="4" style="fill:#555;stroke:none"/><rect x="1276.8" y="455.8" width="16.4" height="4" style="fill:#555;stroke:none"/>
<rect x="1133.6" y="425.6" width="8.4" height="3" style="fill:#666;stroke:none"/><rect x="1133.6" y="459.2" width="8.4" height="3" style="fill:#666;stroke:none"/>
<rect x="1260" y="439.6" width="13.5" height="3" style="fill:#555;stroke:none"/>
<path class="g" d="M1242.5 428V460.5M1254.5 428V460.5M1279 428V460.5M1291 428V460.5"/>
<path class="t" d="M1239.5 432.5H1257.5M1239.5 456H1257.5M1276 432.5H1294M1276 456H1294"/>
<path class="g" d="M1261 430.5V458.5M1272.5 430.5V458.5M1257.5 437.5H1276M1257.5 440.5H1276M1257.5 448H1276M1257.5 451H1276"/>
<path class="d" d="M1222 444.5L1300 444.5"/>
<path d="M976 668V672Q976 696.5 1000 696.5H1011V675H1003Q996.2 675 996.2 668Z" style="fill:#fff;stroke:none"/>
<path class="g" d="M975.4 668.7H996M975.4 671.8H996 M976 672Q976 696.5 1000 696.5H1011 M996.2 672Q996.6 675.5 1000 675.5H1011 M999.6 675.5V696.5"/>
<rect x="1011" y="668.7" width="5" height="31" style="fill:#fff;stroke:#333;stroke-width:1.5"/>
<path d="M1016 677Q1030 674.5 1034 675H1082Q1086 676 1086 683.5T1082 692H1034Q1030 692.5 1016 690Z" style="fill:#fff;stroke:#333;stroke-width:1.5"/>
<path class="g" d="M1034 675V692M1020 679.5Q1050 682 1085 679M1020 687.5Q1050 685 1085 688 M1055 675V692M1059.5 675V692"/>
<rect x="1055" y="681" width="4.5" height="5" style="fill:#fff;stroke:#333;stroke-width:.8"/>
<rect x="1037" y="692" width="41" height="11" rx="1.5" style="fill:#fff;stroke:#333;stroke-width:1.5"/>
<circle class="g" cx="1042.5" cy="696" r="1.5"/>
<circle class="g" cx="1047.5" cy="700" r="1.5"/>
<circle class="g" cx="1052.5" cy="695.5" r="1.5"/>
<circle class="g" cx="1057.5" cy="700" r="1.5"/>
<circle class="g" cx="1063" cy="695.5" r="1.5"/>
<circle class="g" cx="1068" cy="700" r="1.5"/>
<circle class="g" cx="1073" cy="696" r="1.5"/>
<path class="g" d="M997.3 703Q998.3 718 1000.3 724 M1004.8 703Q1005.3 716 1004.3 724 M999.3 710L1004.9 706M999.9 716L1005.1 712M1000.3 722L1004.8 718"/>
<path class="g" d="M1021.8 703Q1022.8 718 1024.8 724 M1029.3 703Q1029.8 716 1028.8 724 M1023.8 710L1029.4 706M1024.4 716L1029.6 712M1024.8 722L1029.3 718"/>
<path class="g" d="M1069.8 703Q1070.8 718 1072.8 724 M1077.3 703Q1077.8 716 1076.8 724 M1071.8 710L1077.4 706M1072.4 716L1077.6 712M1072.8 722L1077.3 718"/>
<rect x="1034.6" y="615" width="46" height="6.8" rx="1" style="fill:#fff;stroke:#333;stroke-width:1.6"/>
<rect x="1039.3" y="621.8" width="37" height="50.5" style="fill:#fff;stroke:#333;stroke-width:1"/>
<rect x="1039.8" y="622" width="3.4" height="50" style="fill:#3a3a3a;stroke:none"/>
<rect x="1047" y="622" width="3.4" height="50" style="fill:#3a3a3a;stroke:none"/>
<rect x="1053.6" y="622" width="3.4" height="50" style="fill:#3a3a3a;stroke:none"/>
<rect x="1060" y="622" width="3.4" height="50" style="fill:#3a3a3a;stroke:none"/>
<rect x="1066.6" y="622" width="3.4" height="50" style="fill:#3a3a3a;stroke:none"/>
<rect x="1072.6" y="622" width="3.4" height="50" style="fill:#3a3a3a;stroke:none"/>
<rect x="1038" y="672" width="40" height="4" style="fill:#444;stroke:none"/>
<path d="M1040 615V597Q1040 591 1046 591H1069Q1075 591 1075 597V615Z" style="fill:#fff;stroke:#333;stroke-width:1.3"/>
<path class="g" d="M1040 600.5H1075M1057.4 600.5V615"/>
<path d="M1045.5 600Q1046 583.5 1050.5 583.5T1055 600" style="fill:none;stroke:#2a2a2a;stroke-width:3"/>
<path d="M1131.2 594L1127 601.6H1126.3V647.4Q1126.5 651 1131.4 652.7Q1136.3 651 1136.5 647.4V601.6H1135.6Z" style="fill:#fff;stroke:#3a3a3a;stroke-width:1.7"/>
<path class="g" d="M1126.3 601.6H1136.5M1126.3 610H1136.5M1126.3 639H1136.5"/>
<path d="M1079.4 380L1081.6 380L1086.8 415L1084.4 415.4Z" style="fill:#fff;stroke:#333;stroke-width:1"/>
<path d="M1083.5 415L1086 428.5M1086.8 415L1088.6 427" style="fill:none;stroke:#333;stroke-width:1"/>
<path class="g" d="M1100 404.5V410M1104 404.5V410M1108 404.5V410M1111.5 404.5V410"/>
<path d="M1574.6 447.6H1527.4V657.4H1677.3V447.6" style="fill:none;stroke:#454545;stroke-width:1.8"/>
<path class="g" d="M1530.2 447.6V648.6M1674.3 447.6V648.6M1527.4 648.6H1677.3"/>
<circle class="g" cx="1549" cy="454.8" r="1.8"/>
<rect x="1594.5" y="657.4" width="16" height="17.6" style="fill:none;stroke:#9a9a9a;stroke-width:.9"/>
<path d="M1621 657.4V676.6Q1621 679.6 1624 679.6H1634.5V657.4" style="fill:none;stroke:#555;stroke-width:1"/>
<rect class="g" x="1626.6" y="668" width="2.6" height="7" rx="1.2"/>
<path class="g" d="M1590 484V640M1665 484V640 M1594.5 500V619M1660.5 500V619 M1602 500V560M1653 500V560M1611 516V548M1644 516V548"/>
<path class="g" d="M1590 484L1596 470Q1601 459.5 1612 458.6H1645Q1655 459.5 1660 470L1665 484"/>
<path class="g" d="M1590 484Q1582 488 1580 498L1579 510L1590 505 M1586.6 487V507 M1665 484Q1673 488 1675 498L1676 510L1665 505"/>
<circle class="g" cx="1591.8" cy="527.5" r="1.9"/>
<circle class="g" cx="1663.2" cy="527.5" r="1.9"/>
<path class="g" d="M1603 476L1610 518H1647L1654 476 M1606.5 476L1613 514.5H1644L1650.5 476 M1603 476L1612 470H1645L1654 476"/>
<path class="g" d="M1610 518L1608 521.5H1649L1647 518 M1613 514.5L1626 498M1644 514.5L1631 498 M1606.5 476L1626 498M1650.5 476L1631 498"/>
<path class="g" d="M1612 521.5L1620 538H1637L1645 521.5 M1622 524V538M1635 524V538"/>
<path d="M1591 554.6Q1628 528 1665 554.6L1660.5 574Q1659.5 578.3 1655 578.3H1601Q1596.5 578.3 1595.5 574Z" style="fill:#fff;stroke:#484848;stroke-width:1.5"/>
<path class="g" d="M1591 554.6H1665"/>
<path d="M1600 578.3L1606 587H1651L1657 578.3" style="fill:#fff;stroke:#484848;stroke-width:1.5"/>
<path d="M1606 587L1604.5 614.3H1652.5L1651 587Z" style="fill:#fff;stroke:#484848;stroke-width:1.5"/>
<path class="g" d="M1604.5 614.3L1597 619.5M1652.5 614.3L1660 619.5"/>
<path d="M1594.6 619.2H1617.5V631L1612 638H1600L1594.6 631Z" style="fill:#fff;stroke:#484848;stroke-width:1.5"/>
<path d="M1638.6 619.2H1662V631L1657 638H1638.6Z" style="fill:#fff;stroke:#484848;stroke-width:1.5"/>
<path class="g" d="M1597 621.5H1615V630L1610.5 636H1601.5L1597 630Z"/>
<circle class="g" cx="1606" cy="628" r="4.6"/>
<circle class="g" cx="1606" cy="628" r="2.6"/>
<circle cx="1649.5" cy="628.5" r="4" style="fill:#444;stroke:none"/><circle cx="1649.5" cy="628.5" r="1.4" style="fill:#fff;stroke:none"/>
<path class="g" d="M1654 625.5H1666Q1669 625.5 1669 628.5T1666 631.5H1654 M1660 624V633"/>
<path class="g" d="M1586 626Q1588 640 1592 641.5H1662Q1667 640 1669 626 M1590 645.8Q1628 647.5 1668 645.8 M1580 600Q1583 630 1590 645.8 M1676 600Q1673 630 1668 645.8"/>
<path d="M1603 627.5C1585 629 1570 632 1561 636Q1552.5 641 1553 646" style="fill:none;stroke:#454545;stroke-width:7"/>
<path d="M1603 627.5C1585 629 1570 632 1561 636Q1552.5 641 1553 646" style="fill:none;stroke:#fff;stroke-width:4.6"/>
<path class="g" d="M1536 559H1566.5 M1536 559L1539.5 648.6M1537.8 559L1541.4 648.6M1566.5 559L1562.5 648.6M1564.7 559L1560.7 648.6 M1539.5 648.6L1546 636M1562.5 648.6L1566 625L1572 636"/>
<rect x="1542.8" y="574" width="17.6" height="7" style="fill:#444;stroke:none"/>
<path class="g" d="M1545.5 581V603H1557.5V581 M1547.5 603V610H1555.5V603 M1551.5 590V603 M1547 560Q1545 567 1547.5 574M1556 560Q1558 567 1555.5 574 M1549 560V572M1554 560V572"/>
<path class="d" d="M1552.2 610L1552.2 622"/>
<rect x="1673.8" y="531.8" width="19.2" height="15" rx="1.5" style="fill:#fff;stroke:#333;stroke-width:1.8"/>
<path class="g" d="M1679 531.8V546.8M1687 531.8V546.8M1673.8 539H1693"/>
<path class="g" d="M1676 546.8V558M1691 546.8V558 M1690.5 549.3H1697.5Q1700 549.3 1700.5 552 M1690.5 553.5H1696"/>
<rect x="1671" y="558" width="24.7" height="7" style="fill:#fff;stroke:#444;stroke-width:1.3"/>
<rect x="1667.6" y="565" width="31.4" height="8" style="fill:#fff;stroke:#444;stroke-width:1.5"/>
<path d="M1667.6 583V590.6H1697V573" style="fill:none;stroke:#777;stroke-width:1"/>
<path class="h" d="M1680.5 447.6L1680.5 531.8"/>
<rect x="1574.6" y="442.2" width="98.7" height="28.1" style="fill:#fff;stroke:#484848;stroke-width:1.3"/>
<circle cx="1582.5" cy="453.3" r="3" style="fill:#fff;stroke:#333;stroke-width:1.8"/>
<circle cx="1582.5" cy="464.7" r="3" style="fill:#fff;stroke:#333;stroke-width:1.8"/>
<rect class="g" x="1591" y="451.6" width="10.5" height="3.2" rx="1.6"/>
<rect x="1586" y="444" width="1.8" height="4.2" style="fill:#555;stroke:none"/>
<rect x="1589" y="444" width="1.8" height="4.2" style="fill:#555;stroke:none"/>
<rect x="1592" y="444" width="1.8" height="4.2" style="fill:#555;stroke:none"/>
<rect x="1595" y="444" width="1.8" height="4.2" style="fill:#555;stroke:none"/>
<rect x="1598" y="444" width="1.8" height="4.2" style="fill:#555;stroke:none"/>
<rect x="1601" y="444" width="1.8" height="4.2" style="fill:#555;stroke:none"/>
<rect x="1604" y="444" width="1.8" height="4.2" style="fill:#555;stroke:none"/>
<rect x="1607" y="444" width="1.8" height="4.2" style="fill:#555;stroke:none"/>
<rect x="1610" y="444" width="1.8" height="4.2" style="fill:#555;stroke:none"/>
<rect x="1613" y="444" width="1.8" height="4.2" style="fill:#555;stroke:none"/>
<rect x="1616" y="444" width="1.8" height="4.2" style="fill:#555;stroke:none"/>
<rect x="1619" y="444" width="1.8" height="4.2" style="fill:#555;stroke:none"/>
<rect x="1614.5" y="443.5" width="8.5" height="6.5" rx="1.5" style="fill:#fff;stroke:#555;stroke-width:1.1"/>
<rect x="1628.5" y="443.5" width="8.5" height="6.5" rx="1.5" style="fill:#fff;stroke:#555;stroke-width:1.1"/>
<rect x="1644.5" y="443.5" width="8.5" height="6.5" rx="1.5" style="fill:#fff;stroke:#555;stroke-width:1.1"/>
<rect x="1659" y="443.5" width="8.5" height="6.5" rx="1.5" style="fill:#fff;stroke:#555;stroke-width:1.1"/>
<circle class="g" cx="1664.5" cy="453.5" r="2.6"/>
<path class="h" d="M1618.5 448L1618.5 484"/>
<path class="g" d="M1601 484Q1603 462 1612 459.5"/>
<ellipse cx="1645.6" cy="471.6" rx="26.5" ry="19.5" transform="rotate(8 1645.6 471.6)" style="fill:none;stroke:#0d0d0d;stroke-width:4"/>
<ellipse cx="1650.8" cy="478.6" rx="27" ry="19.5" transform="rotate(10 1650.8 478.6)" style="fill:none;stroke:#0d0d0d;stroke-width:4"/>
<ellipse cx="1656" cy="484.2" rx="27" ry="20" transform="rotate(12 1656 484.2)" style="fill:none;stroke:#0d0d0d;stroke-width:4"/>
<ellipse cx="1627" cy="496.5" rx="11" ry="9.5" transform="rotate(35 1627 496.5)" style="fill:#0d0d0d;stroke:none"/>
<path d="M1622 489L1630 501" style="stroke:#fff;stroke-width:1.2"/>
<path d="M1615 339.5L1619.5 334.8H1630.5L1635 339.5" style="fill:#fff;stroke:#555;stroke-width:1"/>
<circle class="g" cx="1625" cy="337.6" r="1"/>
<rect x="1570.4" y="339.4" width="111.4" height="101" rx="4" style="fill:#fff;stroke:#484848;stroke-width:1.6"/>
<path class="g" d="M1573 341.5Q1626 337.5 1679 341.5 M1571 344H1681 M1576.5 344L1580 350.5M1675.5 344L1672 350.5 M1579 344L1582 350.5M1673 344L1670 350.5"/>
<rect x="1574.8" y="351" width="102.6" height="81.6" rx="2" style="fill:#fff;stroke:#484848;stroke-width:1.5"/>
<path class="g" d="M1576.5 432.6L1580 440M1675.5 432.6L1672 440 M1579.5 432.6L1583 440M1672.5 432.6L1669 440 M1602 439H1650"/>
<circle cx="1625.5" cy="436.3" r="1.6" style="fill:#444;stroke:none"/>
<rect class="g" x="1589.5" y="357.3" width="24.5" height="7.4"/>
<rect x="1588" y="367.5" width="6" height="4.6" style="fill:#3c3c3c;stroke:none"/><rect x="1595.5" y="366.5" width="7" height="6.6" rx="1.5" style="fill:#666;stroke:none"/>
<ellipse cx="1612" cy="370" rx="5.6" ry="4.2" style="fill:#111;stroke:none"/><path d="M1604 369.5H1608" style="stroke:#333;stroke-width:1.4"/><circle cx="1609" cy="373.5" r="1.6" style="fill:#222;stroke:none"/>
<path d="M1586.5 383.5V378.5L1589 376H1594V380H1590.5V383.5Z" style="fill:#3c3c3c;stroke:none"/><rect x="1597.5" y="377" width="2" height="3.4" style="fill:#3c3c3c;stroke:none"/>
<path d="M1603.5 378.6H1639L1642.5 381L1639 383.8H1603.5Z" style="fill:#3c3c3c;stroke:none"/>
<rect x="1607" y="379.6" width="3.6" height="2.8" rx="1" style="fill:#999;stroke:none"/>
<rect x="1613.4" y="379.6" width="3.6" height="2.8" rx="1" style="fill:#999;stroke:none"/>
<rect x="1619.8" y="379.6" width="3.6" height="2.8" rx="1" style="fill:#999;stroke:none"/>
<rect x="1626.2" y="379.6" width="3.6" height="2.8" rx="1" style="fill:#999;stroke:none"/>
<rect x="1632.6" y="379.6" width="3.6" height="2.8" rx="1" style="fill:#999;stroke:none"/>
<rect x="1621.5" y="358" width="5.5" height="17" style="fill:#3c3c3c;stroke:none"/><rect x="1627" y="371.5" width="17" height="3.4" style="fill:#3c3c3c;stroke:none"/>
<rect x="1629" y="357" width="2.6" height="14" style="fill:#555;stroke:none"/>
<rect x="1627" y="360" width="16" height="1.2" style="fill:#555;stroke:none"/>
<rect x="1634.2" y="357" width="2.6" height="14" style="fill:#555;stroke:none"/>
<rect x="1627" y="364" width="16" height="1.2" style="fill:#555;stroke:none"/>
<rect x="1639.4" y="357" width="2.6" height="14" style="fill:#555;stroke:none"/>
<rect x="1627" y="368" width="16" height="1.2" style="fill:#555;stroke:none"/>
<rect x="1646.5" y="355" width="11.5" height="30.5" style="fill:#3c3c3c;stroke:none"/>
<rect x="1649" y="361" width="6.5" height="9" style="fill:#888;stroke:none"/><rect x="1649" y="374" width="6.5" height="8" style="fill:#888;stroke:none"/><path d="M1652.2 358V384" style="stroke:#3c3c3c;stroke-width:1.4"/>
<rect x="1586.5" y="396.5" width="6.5" height="5.6" style="fill:#3c3c3c;stroke:none"/><path d="M1587.5 400.5L1592.5 398" style="stroke:#fff;stroke-width:.9"/>
<path d="M1587 406V424" style="stroke:#3c3c3c;stroke-width:1.6;stroke-dasharray:3 1.6"/>
<rect x="1598" y="409.5" width="16.5" height="15" style="fill:#3c3c3c;stroke:none"/><rect x="1614.5" y="414.5" width="8.5" height="10" style="fill:#3c3c3c;stroke:none"/>
<rect x="1601.5" y="414" width="5" height="4.5" style="fill:#888;stroke:none"/><rect x="1609" y="416" width="4" height="4" style="fill:#888;stroke:none"/><rect x="1616" y="417" width="5" height="2.4" style="fill:#aaa;stroke:none"/>
<path d="M1635 406V426H1629M1638 414H1659V427H1638ZM1638 420.5H1659 M1648 404L1650.5 410L1657 407V414 M1659 412L1668 414.5L1660 417" style="fill:none;stroke:#3c3c3c;stroke-width:1.7"/>
<path d="M1660 408L1669 414.5L1661.5 421Z" style="fill:#3c3c3c;stroke:none"/>
</svg>
</body></html>
